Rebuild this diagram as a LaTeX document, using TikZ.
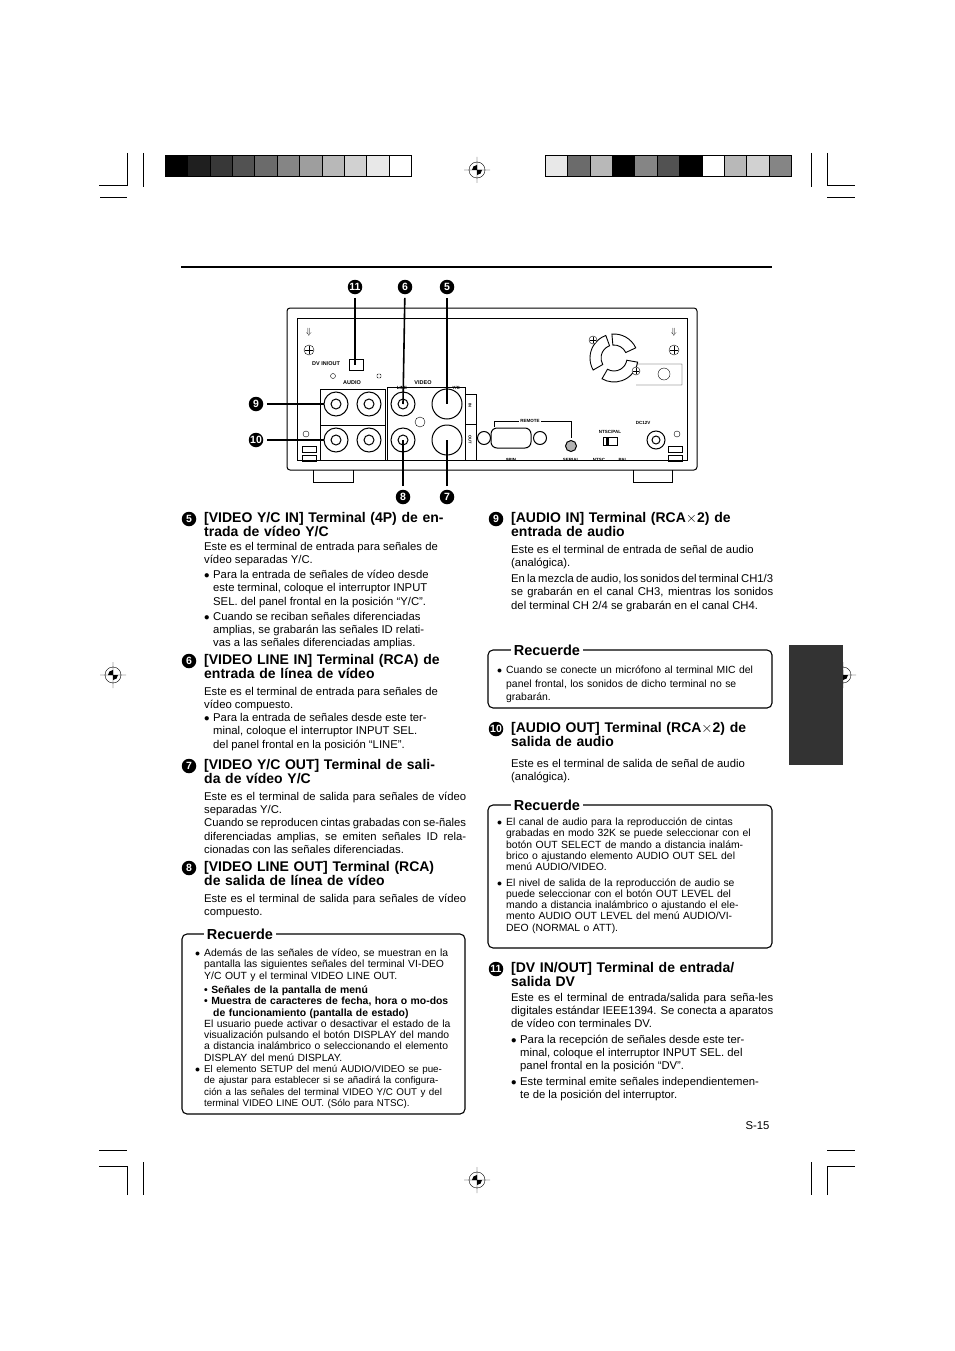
\documentclass[tikz,border=0pt]{standalone}
\usepackage{fontspec}
\setmainfont{Liberation Sans}
\usetikzlibrary{positioning}
\newcommand{\cnum}[1]{\tikz[baseline=-0.6ex]\node[circle,fill=black,text=white,inner sep=0pt,minimum size=14.5pt,font=\fontsize{10.5}{10}\selectfont\bfseries]{#1};}
\newcommand{\regmark}[1]{\draw (#1) circle (8) (#1) ++(-13,0) -- ++(26,0) (#1) ++(0,-13) -- ++(0,26); \fill (#1) -- ++(0,5) arc(90:0:5) -- cycle; \fill (#1) -- ++(0,-5) arc(270:180:5) -- cycle;}
\newcommand{\bitem}{\par\hangindent=9pt\hangafter=1\noindent\makebox[9pt][l]{$\bullet$}}
\newcommand{\iitem}{\par\hangindent=9pt\hangafter=0\noindent}
\tikzset{
  body/.style={anchor=north west,inner sep=0pt,align=justify,font=\fontsize{11.3}{13.2}\selectfont},
  head/.style={anchor=north west,inner sep=0pt,align=left,font=\fontsize{14}{14}\selectfont\bfseries},
  memo/.style={draw,rounded corners=5pt,line width=1.1pt},
  memotitle/.style={fill=white,inner xsep=3pt,inner ysep=0pt,font=\fontsize{14.5}{14}\selectfont\bfseries},
  memotext/.style={anchor=north west,inner sep=0pt,text width=#1,font=\fontsize{10.4}{11.3}\selectfont},
  jack/.style={draw,line width=1pt,circle,minimum size=#1,inner sep=0pt},
  callout/.style={line width=1.6pt},
}
\begin{document}
\begin{tikzpicture}[x=1pt,y=-1pt]
\useasboundingbox (0,0) rectangle (954,1351);
% crop marks
\draw (127,153) -- (127,185) -- (99,185) (143,153) -- (143,187) (827,153) -- (827,185) -- (855,185) (811,153) -- (811,187);
\draw (100,197) -- (127,197) (827,197) -- (855,197);
\draw (127,1195) -- (127,1166) -- (99,1166) (143,1162) -- (143,1195) (827,1195) -- (827,1166) -- (855,1166) (811,1162) -- (811,1195);
\draw (99,1150) -- (127,1150) (827,1150) -- (855,1150);
% colour bars
\foreach \i/\g in {0/100,1/88,2/78,3/68,4/58,5/48,6/38,7/28,8/18,9/9,10/0}
  \filldraw[fill=black!\g,draw=black] (165+\i*22.4,155) rectangle ++(22.4,21);
\foreach \i/\g in {0/9,1/58,2/28,3/100,4/48,5/68,6/100,7/0,8/28,9/18,10/48}
  \filldraw[fill=black!\g,draw=black] (545+\i*22.4,155) rectangle ++(22.4,21);
% registration targets
\regmark{477,170} \regmark{113,675} \regmark{843,675} \regmark{477,1180}
% header rule and tab
\draw[line width=1.5pt] (181,267) -- (772,267);
\fill[black!80] (789,645) rectangle (843,765);
% device panel
\draw[line width=1pt,rounded corners=3pt] (287,308) rectangle (697,470);
\draw[line width=0.8pt] (297,318) rectangle (687,460);
\draw (313,470) -- (313,482) -- (353,482) -- (353,470) (633,470) -- (633,482) -- (672,482) -- (672,470);
\foreach \x in {309,674} {\draw (\x,350) circle (5); \draw (\x,346)--(\x,354) (\x-4,350)--(\x+4,350); \node[font=\fontsize{9}{9}\selectfont] at (\x,332) {$\Downarrow$};}
\node[font=\fontsize{5.5}{6}\selectfont\bfseries] (dvlabel) at (326,364) {DV IN/OUT};
\draw[line width=1pt] (349,359) rectangle (363,370);
\node[draw,circle,minimum size=5pt,inner sep=0pt] at (333,376) {};
\node[draw,rounded corners=1pt,minimum size=4pt,inner sep=0pt] at (379,376) {};
\draw[line width=1pt] (320,389) rectangle (385,425) (320,425) rectangle (385,460);
\node[fill=white,font=\fontsize{5.5}{6}\selectfont\bfseries,inner sep=1pt] at (352,383) {AUDIO};
\draw (387,387) rectangle (465,460) (465,394) rectangle (476,424) (465,424) rectangle (476,460);
\node[fill=white,font=\fontsize{5.5}{6}\selectfont\bfseries,inner sep=1pt] at (423,383) {VIDEO};
\node[font=\fontsize{4.5}{5}\selectfont\bfseries] at (402,388) {LINE};
\node[font=\fontsize{4.5}{5}\selectfont\bfseries] at (456,388) {Y/C};
\node[font=\fontsize{4}{5}\selectfont\bfseries,rotate=-90] at (470,405) {IN};
\node[font=\fontsize{4}{5}\selectfont\bfseries,rotate=-90] at (470,440) {OUT};
\foreach \n/\x/\y in {a1/336/404,a2/369/404,a3/336/440,a4/369/440,v1/403/404,v2/403/440}
  {\node[jack=24pt] (\n) at (\x,\y) {}; \node[jack=10pt] at (\x,\y) {};}
\node[jack=30pt] (yc1) at (447,404) {};
\node[jack=30pt] (yc2) at (447,440) {};
\node[draw,circle,minimum size=10pt] at (420,422) {};
\node[draw,rounded corners=6pt,minimum width=40pt,minimum height=20pt,line width=1pt] (dsub) at (511,438) {};
\node[jack=13pt] at (484,438) {}; \node[jack=13pt] at (540,438) {};
\node[jack=11pt,fill=black!30] (serial) at (571,446) {};
\draw (494,427) -- (494,421) -- (571,421) -- (571,438);
\node[fill=white,font=\fontsize{4.5}{5}\selectfont\bfseries,inner sep=1pt] at (530,421) {REMOTE};
\node[font=\fontsize{4.5}{5}\selectfont\bfseries] at (511,460) {9PIN};
\node[font=\fontsize{4.5}{5}\selectfont\bfseries] at (571,460) {SERIAL};
\node[font=\fontsize{4.5}{5}\selectfont\bfseries] at (610,432) {NTSC/PAL};
\draw (603,437) rectangle (617,445); \fill (606,437) rectangle (609,445);
\node[font=\fontsize{4.5}{5}\selectfont\bfseries] at (599,460) {NTSC};
\node[font=\fontsize{4.5}{5}\selectfont\bfseries] at (623,460) {PAL};
\node[font=\fontsize{4.5}{5}\selectfont\bfseries] at (643,423) {DC12V};
\node[jack=18pt] at (656,440) {}; \node[jack=8pt] at (656,440) {};
\node[draw,circle,minimum size=6pt,inner sep=0pt] at (677,434) {};
\node[draw,circle,minimum size=6pt,inner sep=0pt] at (306,434) {};
% fan
\coordinate (fan) at (614,358);
\foreach \a/\b in {150/250,265/335,10/120}
  \draw[line width=0.9pt] ([shift={(\a:24)}]fan) arc(\a:\b:24) -- ([shift={(\b:13)}]fan) arc(\b:\a:13) -- cycle;
\draw (636,364) -- (682,364) -- (682,385) -- (636,385) (664,374) circle (6);
\foreach \p in {(593,340),(636,371)} {\filldraw[fill=white] \p circle (4); \draw \p ++(-3,0) -- ++(6,0) \p ++(0,-3) -- ++(0,6);}
\foreach \y in {446,455} {\draw (302,\y) rectangle (316,\y+6); \draw (668,\y) rectangle (682,\y+6);}
% callouts
\node (c11) at (355,287) {\cnum{11}};
\node (c6) at (405,287) {\cnum{6}};
\node (c5) at (447,287) {\cnum{5}};
\node (c9) at (256,404) {\cnum{9}};
\node (c10) at (256,440) {\cnum{10}};
\node (c8) at (403,497) {\cnum{8}};
\node (c7) at (447,497) {\cnum{7}};
\draw[callout] (c11) -- (355,365);
\draw[callout] (c6) -- (v1.center);
\draw[callout] (c5) -- (yc1.center);
\draw[callout] (c9) -- (a1.west);
\draw[callout] (c10) -- (a3.west);
\draw[callout] (c8) -- (v2.center);
\draw[callout] (c7) -- (yc2.center);
% left column
\node (h5n) at (189,519) {\cnum{5}};
\node[head,text width=262] (h5) at (204,512) {[VIDEO Y/C IN] Terminal (4P) de en-\\trada de vídeo Y/C};
\node[body,text width=262] (t5) at (204,542) {Este es el terminal de entrada para señales de\\vídeo separadas Y/C.\\[2pt]
\makebox[9pt][l]{$\bullet$}Para la entrada de señales de vídeo desde\\\hspace*{9pt}este terminal, coloque el interruptor INPUT\\\hspace*{9pt}SEL. del panel frontal en la posición “Y/C”.\\[2pt]
\makebox[9pt][l]{$\bullet$}Cuando se reciban señales diferenciadas\\\hspace*{9pt}amplias, se grabarán las señales ID relati-\\\hspace*{9pt}vas a las señales diferenciadas amplias.};
\node (h6n) at (189,661) {\cnum{6}};
\node[head,text width=262] (h6) at (204,654) {[VIDEO LINE IN] Terminal (RCA) de\\entrada de línea de vídeo};
\node[body,text width=262] (t6) at (204,687) {Este es el terminal de entrada para señales de\\vídeo compuesto.\\
\makebox[9pt][l]{$\bullet$}Para la entrada de señales desde este ter-\\\hspace*{9pt}minal, coloque el interruptor INPUT SEL.\\\hspace*{9pt}del panel frontal en la posición “LINE”.};
\node (h7n) at (189,766) {\cnum{7}};
\node[head,text width=262] (h7) at (204,759) {[VIDEO Y/C OUT] Terminal de sali-\\da de vídeo Y/C};
\node[body,text width=262] (t7) at (204,792) {Este es el terminal de salida para señales de vídeo separadas Y/C.\par
Cuando se reproducen cintas grabadas con se-ñales diferenciadas amplias, se emiten señales ID relacionadas con las señales diferenciadas.};
\node (h8n) at (189,868) {\cnum{8}};
\node[head,text width=262] (h8) at (204,861) {[VIDEO LINE OUT] Terminal (RCA)\\de salida de línea de vídeo};
\node[body,text width=262] (t8) at (204,894) {Este es el terminal de salida para señales de vídeo compuesto.};
\draw[memo] (182,934) rectangle (465,1114);
\node[memotitle] (r1) at (240,934) {Recuerde};
\node[memotext=257] (m1) at (195,945) {\bitem Además de las señales de vídeo, se muestran en la pantalla las siguientes señales del terminal VI-DEO Y/C OUT y el terminal VIDEO LINE OUT.\par\vspace{3pt}
\iitem{\bfseries • Señales de la pantalla de menú}
\par\hangindent=18pt\hangafter=0\noindent\hspace*{-9pt}{\bfseries • Muestra de caracteres de fecha, hora o mo-dos de funcionamiento (pantalla de estado)}
\iitem El usuario puede activar o desactivar el estado de la visualización pulsando el botón DISPLAY del mando a distancia inalámbrico o seleccionando el elemento DISPLAY del menú DISPLAY.
\bitem{\fontsize{9.8}{11.3}\selectfont El elemento SETUP del menú AUDIO/VIDEO se pue-de ajustar para establecer si se añadirá la configura-ción a las señales del terminal VIDEO Y/C OUT y del terminal VIDEO LINE OUT. (Sólo para NTSC).\par}};
% right column
\node (h9n) at (496,519) {\cnum{9}};
\node[head,text width=262] (h9) at (511,512) {[AUDIO IN] Terminal (RCA$\times$2) de\\entrada de audio};
\node[body,text width=262] (t9) at (511,545) {Este es el terminal de entrada de señal de audio\\(analógica).\\[3pt]
En la mezcla de audio, los sonidos del terminal CH1/3 se grabarán en el canal CH3, mientras los sonidos del terminal CH 2/4 se grabarán en el canal CH4.};
\draw[memo] (488,650) rectangle (772,708);
\node[memotitle] (r2) at (547,650) {Recuerde};
\node[memotext=257,font=\fontsize{10.4}{13.5}\selectfont] (m2) at (497,660) {\bitem Cuando se conecte un micrófono al terminal MIC del panel frontal, los sonidos de dicho terminal no se grabarán.\par};
\node (h10n) at (496,729) {\cnum{10}};
\node[head,text width=262] (h10) at (511,722) {[AUDIO OUT] Terminal (RCA$\times$2) de\\salida de audio};
\node[body,text width=262] (t10) at (511,759) {Este es el terminal de salida de señal de audio\\(analógica).};
\draw[memo] (488,805) rectangle (772,948);
\node[memotitle] (r3) at (547,805) {Recuerde};
\node[memotext=257] (m3) at (497,814) {\bitem El canal de audio para la reproducción de cintas grabadas en modo 32K se puede seleccionar con el botón OUT SELECT de mando a distancia inalámbrico o ajustando elemento AUDIO OUT SEL del menú AUDIO/VIDEO.\par\vspace{4pt}
\bitem El nivel de salida de la reproducción de audio se puede seleccionar con el botón OUT LEVEL del mando a distancia inalámbrico o ajustando el ele-mento AUDIO OUT LEVEL del menú AUDIO/VI-DEO (NORMAL o ATT).\par};
\node (h11n) at (496,969) {\cnum{11}};
\node[head,text width=262] (h11) at (511,962) {[DV IN/OUT] Terminal de entrada/\\salida DV};
\node[body,text width=262] (t11) at (511,993) {Este es el terminal de entrada/salida para seña-les digitales estándar IEEE1394. Se conecta a aparatos de vídeo con terminales DV.\\[2pt]
\makebox[9pt][l]{$\bullet$}Para la recepción de señales desde este ter-\\\hspace*{9pt}minal, coloque el interruptor INPUT SEL. del\\\hspace*{9pt}panel frontal en la posición “DV”.\\[3pt]
\makebox[9pt][l]{$\bullet$}Este terminal emite señales independientemen-\\\hspace*{9pt}te de la posición del interruptor.};
\node[anchor=east,font=\fontsize{11.3}{12}\selectfont] (pg) at (773,1126) {S-15};
\end{tikzpicture}
\end{document}
